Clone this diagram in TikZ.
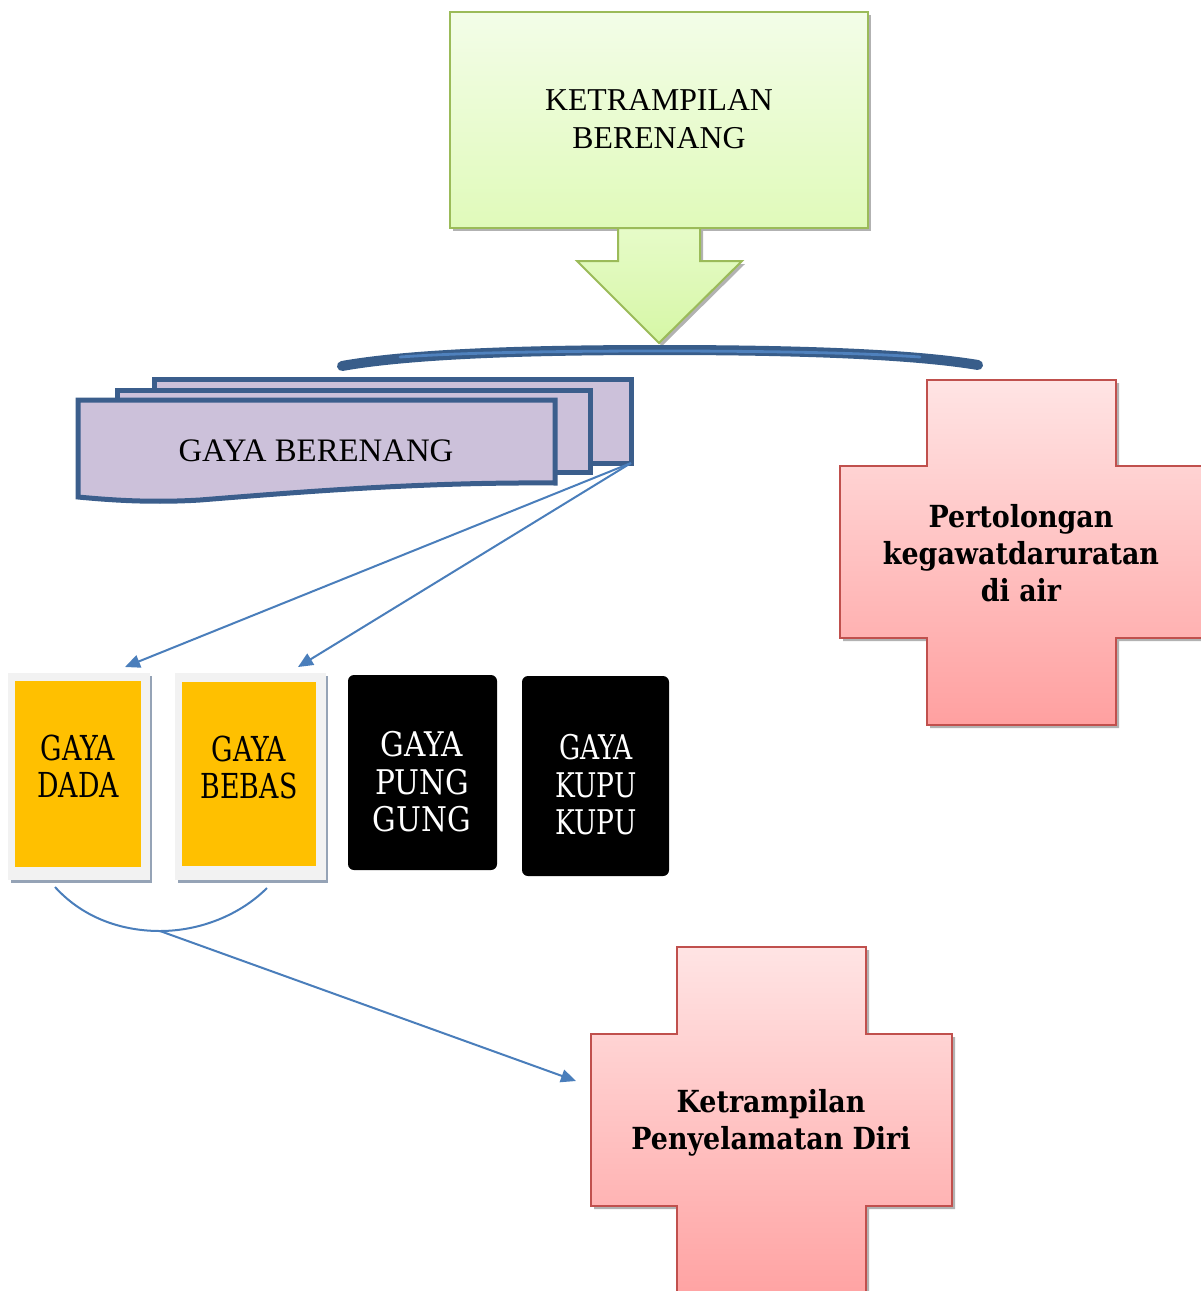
\documentclass[tikz,border=0pt]{standalone}
\usepackage{fontspec}
\setmainfont{Liberation Serif}
\newfontfamily\cardfont[FakeStretch=0.78]{DejaVu Serif}
\newfontfamily\cardfontw[FakeStretch=0.87]{DejaVu Serif}
\newfontfamily\crossfont[FakeStretch=0.885]{DejaVu Serif}
\usetikzlibrary{arrows.meta,shadows}
\definecolor{greenborder}{HTML}{9BBB59}
\definecolor{greentop}{HTML}{F3FDE8}
\definecolor{greenbot}{HTML}{E0FABA}
\definecolor{arrowtop}{HTML}{E6FBC8}
\definecolor{arrowbot}{HTML}{D6F7A6}
\definecolor{bracedark}{HTML}{385D8A}
\definecolor{bracelight}{HTML}{4F81BD}
\definecolor{docfill}{HTML}{CCC1DA}
\definecolor{docborder}{HTML}{3B5E8C}
\definecolor{connblue}{HTML}{4A7EBB}
\definecolor{cardyellow}{HTML}{FFC000}
\definecolor{cardframe}{HTML}{F2F2F2}
\definecolor{cardshadow}{HTML}{95A3B6}
\definecolor{pinktop}{HTML}{FFE4E4}
\definecolor{pinkbot}{HTML}{FFA0A0}
\definecolor{pinkborder}{HTML}{C0504D}
\begin{document}
\begin{tikzpicture}[x=0.5pt,y=-0.5pt,
  lbl/.style={align=center, inner sep=0pt},
  conn/.style={draw=connblue, line width=1pt},
  tipped/.style={-{Triangle[length=7.5pt,width=6.5pt]}},
  shad/.style={drop shadow={shadow xshift=1.5pt,shadow yshift=-1.5pt,opacity=.3,fill=black}},
  docshape/.style={fill=docfill, draw=docborder, line width=2.5pt, line join=miter},
  pinkcross/.style={draw=pinkborder, line width=1pt, top color=pinktop, bottom color=pinkbot, shad},
  yellowtxt/.style={lbl, font=\cardfont\fontsize{17.2}{18.5}\selectfont},
  blacktxt/.style={lbl, text=white, font=\cardfont\fontsize{17}{18.7}\selectfont},
  crosstxt/.style={lbl, font=\crossfont\bfseries\fontsize{15.2}{18.6}\selectfont}
]
\useasboundingbox (0,0) rectangle (1200,1291);

% top green box
\path[draw=greenborder, line width=1pt, top color=greentop, bottom color=greenbot, shad]
  (450,12) rectangle (868,228);
\node[lbl, font=\fontsize{15.9}{19}\selectfont] (ket) at (659,119) {KETRAMPILAN\\BERENANG};

% green down arrow
\path[draw=greenborder, line width=1pt, top color=arrowtop, bottom color=arrowbot, shad]
  (618,228) -- (700,228) -- (700,261) -- (742,261) -- (659,343) -- (577,261) -- (618,261) -- cycle;

% brace
\draw[bracedark, line width=5pt, line cap=round]
  (342,366) .. controls (420,352) and (560,350) .. (659,350)
  .. controls (760,350) and (900,352) .. (978,365);
\draw[bracelight, line width=1.4pt, line cap=round]
  (400,357) .. controls (470,352) and (580,351) .. (659,351)
  .. controls (740,351) and (850,352) .. (920,357);

% multidocument
\path[docshape] (154,379) rectangle (631,463);
\path[docshape] (117,390) rectangle (590,472);
\path[docshape] (78,400) -- (555,400) -- (555,483)
  .. controls (420,482) and (300,492) .. (200,500)
  .. controls (150,503) and (110,500) .. (78,497) -- cycle;
\node[lbl, font=\fontsize{16.4}{18}\selectfont] (gb) at (316,451) {GAYA BERENANG};
\coordinate (gbc) at (631,463);

% cards
\fill[cardshadow] (11,676) rectangle (152,883);
\fill[cardframe] (8,673) rectangle (150,880);
\fill[cardyellow] (15,681) rectangle (141,867);
\node[yellowtxt] (dada) at (78,766) {GAYA\\DADA};

\fill[cardshadow] (178,676) rectangle (328,883);
\fill[cardframe] (175,673) rectangle (326,880);
\fill[cardyellow] (182,682) rectangle (316,866);
\node[yellowtxt] (bebas) at (249,767) {GAYA\\BEBAS};

\fill[black, rounded corners=3pt] (348,675) rectangle (497,870);
\node[blacktxt, font=\cardfontw\fontsize{17}{18.7}\selectfont] (punggung) at (422,782) {GAYA\\PUNG\\GUNG};

\fill[black, rounded corners=3pt] (522,676) rectangle (669,876);
\node[blacktxt] (kupu) at (596,785) {GAYA\\KUPU\\KUPU};

% arrows from gaya berenang
\coordinate (t1) at (125,667);
\coordinate (t2) at (298,667);
\draw[conn, tipped] (gbc) -- (t1);
\draw[conn, tipped] (gbc) -- (t2);

% crosses
\path[pinkcross] (927,380) -- (1116,380) -- (1116,466) -- (1215,466) -- (1215,638)
  -- (1116,638) -- (1116,725) -- (927,725) -- (927,638) -- (840,638) -- (840,466)
  -- (927,466) -- cycle;
\node[crosstxt] (pert) at (1021,553) {Pertolongan\\kegawatdaruratan\\di air};

\path[pinkcross] (677,947) -- (866,947) -- (866,1034) -- (952,1034) -- (952,1206)
  -- (866,1206) -- (866,1310) -- (677,1310) -- (677,1206) -- (591,1206) -- (591,1034)
  -- (677,1034) -- cycle;
\node[crosstxt] (peny) at (771,1123) {Ketrampilan\\Penyelamatan Diri};

% curve below cards and arrow
\coordinate (cl) at (55,887);
\coordinate (cm) at (160,931);
\coordinate (cr) at (267,888);
\coordinate (t3) at (576,1081);
\draw[conn] (cl) .. controls (85,920) and (125,931) .. (cm)
  .. controls (200,931) and (240,915) .. (cr);
\draw[conn, tipped] (cm) -- (t3);
\end{tikzpicture}
\end{document}
